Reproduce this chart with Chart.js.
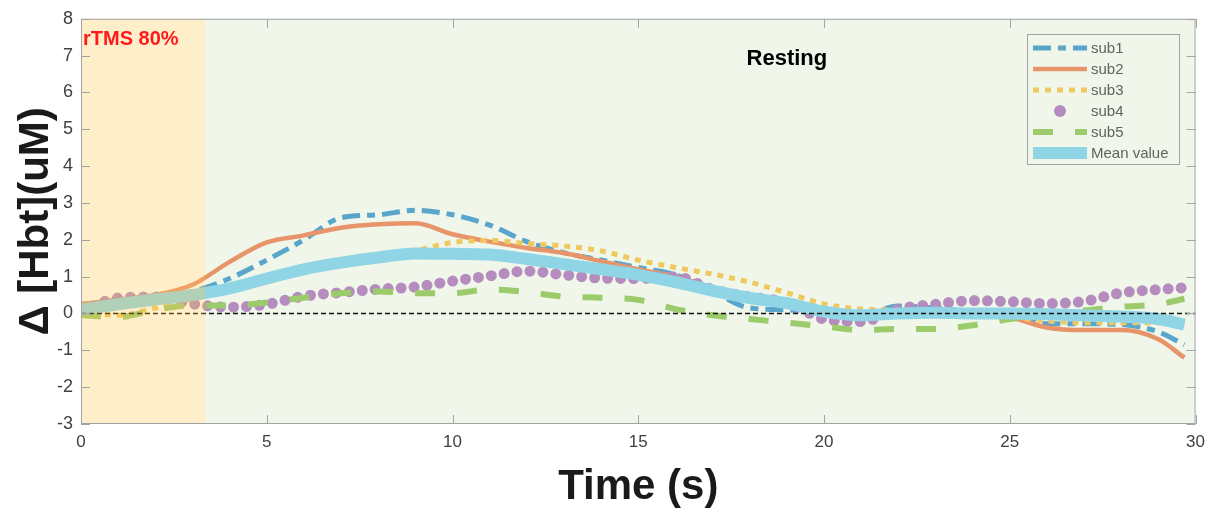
<!DOCTYPE html>
<html>
<head>
<meta charset="utf-8">
<script src="https://cdn.jsdelivr.net/npm/chart.js@4.4.1/dist/chart.umd.min.js"></script>
<style>
  html, body { margin: 0; padding: 0; background: #ffffff; }
  #wrap { width: 1213px; height: 508px; }
</style>
</head>
<body>
<div id="wrap"><canvas id="graficoHbt" width="1213" height="508"></canvas></div>
<script>
// ---- datos ----
const timeSec = [0, 1, 2, 3, 4, 5, 6, 7, 8, 9, 10, 11, 12, 13, 14, 15, 16, 17, 18, 19, 20, 21, 22, 23, 24, 25, 26, 27, 28, 29, 29.7];

const sub1 = [0.25, 0.35, 0.45, 0.6, 0.95, 1.45, 2.0, 2.6, 2.68, 2.8, 2.68, 2.4, 1.95, 1.65, 1.45, 1.25, 1.05, 0.6, 0.15, 0.1, 0.0, -0.05, 0.2, 0.15, 0.05, -0.05, -0.28, -0.28, -0.3, -0.5, -0.85];
const sub2 = [0.25, 0.38, 0.5, 0.78, 1.4, 1.93, 2.12, 2.33, 2.42, 2.45, 2.15, 1.95, 1.78, 1.64, 1.42, 1.2, 1.0, 0.7, 0.4, 0.25, 0.1, 0.0, 0.05, 0.05, 0.0, -0.1, -0.38, -0.45, -0.45, -0.7, -1.2];
const sub3 = [0.05, -0.05, 0.15, 0.4, 0.6, 0.85, 1.15, 1.3, 1.45, 1.7, 1.93, 1.98, 1.9, 1.83, 1.7, 1.45, 1.25, 1.07, 0.85, 0.56, 0.26, 0.12, 0.1, 0.05, 0.0, -0.1, -0.2, -0.25, -0.25, -0.25, -0.3];
const sub4 = [0.05, 0.42, 0.45, 0.26, 0.17, 0.25, 0.47, 0.57, 0.66, 0.72, 0.88, 1.02, 1.15, 1.05, 0.96, 0.95, 1.0, 0.65, 0.45, 0.3, -0.15, -0.22, 0.12, 0.25, 0.35, 0.32, 0.27, 0.33, 0.56, 0.65, 0.7];
const sub5 = [-0.05, -0.1, 0.1, 0.22, 0.22, 0.3, 0.43, 0.55, 0.6, 0.55, 0.55, 0.65, 0.58, 0.46, 0.43, 0.37, 0.12, -0.05, -0.15, -0.25, -0.35, -0.45, -0.42, -0.42, -0.32, -0.15, -0.03, 0.08, 0.18, 0.25, 0.4];
const meanValue = [0.1, 0.25, 0.38, 0.5, 0.68, 0.95, 1.2, 1.38, 1.52, 1.63, 1.62, 1.6, 1.48, 1.34, 1.2, 1.05, 0.85, 0.62, 0.42, 0.28, 0.05, -0.05, 0.0, 0.02, 0.0, 0.0, -0.02, -0.05, -0.08, -0.15, -0.3];

const seriesNames = ['sub1', 'sub2', 'sub3', 'sub4', 'sub5', 'Mean value'];
const stimEnd = 3.35;          // fin de la estimulacion (s)
const stimLabel = 'rTMS 80%';
const restLabel = 'Resting';

const toPoints = vals => vals.map((v, i) => ({ x: timeSec[i], y: v }));

// ---- colores y estilos ----
const bgStim = 'rgba(255, 200, 80, 0.30)';
const bgRest = '#f0f7ea';
const axisGray = '#a3a3a3';

const dataHbt = {
  datasets: [
    { label: seriesNames[0], data: toPoints(sub1), borderColor: '#5aa5cc', borderWidth: 5, borderDash: [18, 7, 8, 7], order: 6 },
    { label: seriesNames[1], data: toPoints(sub2), borderColor: '#e8946a', borderWidth: 4.5, order: 5 },
    { label: seriesNames[2], data: toPoints(sub3), borderColor: '#f0c95e', borderWidth: 5, borderDash: [6, 6], order: 4 },
    { label: seriesNames[3], data: toPoints(sub4), borderColor: '#b48cbe', borderWidth: 11, borderDash: [0, 13], borderCapStyle: 'round', order: 3 },
    { label: seriesNames[4], data: toPoints(sub5), borderColor: '#9ccb6c', borderWidth: 6, borderDash: [20, 22], order: 2 },
    { label: seriesNames[5], data: toPoints(meanValue), borderColor: '#8fd5e6', borderWidth: 12, order: 1 }
  ]
};

// fondos, linea cero, textos, leyenda y marco estilo MATLAB
const figurePlugin = {
  id: 'figurePlugin',
  beforeDatasetsDraw(chart) {
    const { ctx, chartArea: a, scales: { x } } = chart;
    const xs = x.getPixelForValue(stimEnd);
    ctx.save();
    ctx.fillStyle = '#ffffff';
    ctx.fillRect(a.left, a.top, xs - a.left, a.bottom - a.top);
    ctx.fillStyle = bgRest;
    ctx.fillRect(xs, a.top, a.right - xs, a.bottom - a.top);
    ctx.restore();
  },
  afterDatasetsDraw(chart) {
    const { ctx, chartArea: a, scales: { x, y } } = chart;
    const xs = x.getPixelForValue(stimEnd);
    ctx.save();
    // linea de cero
    const y0 = y.getPixelForValue(0);
    ctx.strokeStyle = '#111111';
    ctx.lineWidth = 1.5;
    ctx.setLineDash([5, 3]);
    ctx.beginPath();
    ctx.moveTo(a.left, y0);
    ctx.lineTo(a.right, y0);
    ctx.stroke();
    ctx.setLineDash([]);
    // zona de estimulacion (encima de las curvas, transparente)
    ctx.fillStyle = bgStim;
    ctx.fillRect(a.left, a.top, xs - a.left, a.bottom - a.top);

    // textos
    ctx.textBaseline = 'middle';
    ctx.fillStyle = '#ff1a1a';
    ctx.font = 'bold 20px "Liberation Sans", Arial, sans-serif';
    ctx.textAlign = 'left';
    ctx.fillText(stimLabel, a.left + 2, y.getPixelForValue(7.45));
    ctx.fillStyle = '#000000';
    ctx.font = 'bold 22px "Liberation Sans", Arial, sans-serif';
    ctx.textAlign = 'center';
    ctx.fillText(restLabel, x.getPixelForValue(19), y.getPixelForValue(6.9));

    // leyenda
    const lx = 1027, ly = 34, lw = 152, lh = 130;
    ctx.fillStyle = bgRest;
    ctx.fillRect(lx, ly, lw, lh);
    ctx.strokeStyle = axisGray;
    ctx.lineWidth = 1;
    ctx.strokeRect(lx + 0.5, ly + 0.5, lw, lh);
    chart.data.datasets.forEach((ds, i) => {
      const cy = ly + 14 + i * 21;
      ctx.strokeStyle = ds.borderColor;
      ctx.fillStyle = ds.borderColor;
      if (ds.borderCapStyle === 'round') {
        ctx.beginPath();
        ctx.arc(1060, cy, 6, 0, Math.PI * 2);
        ctx.fill();
      } else {
        ctx.lineWidth = ds.borderWidth;
        ctx.lineCap = 'butt';
        ctx.setLineDash(ds.borderDash || []);
        ctx.beginPath();
        ctx.moveTo(1033, cy);
        ctx.lineTo(1087, cy);
        ctx.stroke();
        ctx.setLineDash([]);
      }
      ctx.fillStyle = '#626262';
      ctx.font = '15px "Liberation Sans", Arial, sans-serif';
      ctx.textAlign = 'left';
      ctx.fillText(ds.label, 1091, cy + 1);
    });

    // marco y ticks hacia dentro
    ctx.strokeStyle = axisGray;
    ctx.lineWidth = 1;
    ctx.strokeRect(a.left + 0.5, a.top + 0.5, a.right - a.left - 1, a.bottom - a.top - 1);
    const tl = 9;
    ctx.beginPath();
    x.ticks.forEach(t => {
      const px = Math.round(x.getPixelForValue(t.value)) + 0.5;
      ctx.moveTo(px, a.bottom); ctx.lineTo(px, a.bottom - tl);
      ctx.moveTo(px, a.top); ctx.lineTo(px, a.top + tl);
    });
    y.ticks.forEach(t => {
      const py = Math.round(y.getPixelForValue(t.value)) + 0.5;
      ctx.moveTo(a.left, py); ctx.lineTo(a.left + tl, py);
      ctx.moveTo(a.right, py); ctx.lineTo(a.right - tl, py);
    });
    ctx.stroke();
    ctx.restore();
  }
};

const configHbt = {
  type: 'line',
  data: dataHbt,
  options: {
    responsive: false,
    animation: false,
    devicePixelRatio: 1,
    layout: { padding: { left: 0, top: 17, right: 16, bottom: 0 } },
    elements: {
      point: { radius: 0 },
      line: { cubicInterpolationMode: 'monotone', fill: false }
    },
    plugins: {
      legend: { display: false },
      tooltip: { enabled: false }
    },
    scales: {
      x: {
        type: 'linear',
        min: 0,
        max: 30,
        afterFit: s => { s.height = 84; },
        grid: { display: false, drawTicks: false },
        border: { display: false },
        ticks: {
          stepSize: 5,
          padding: 8,
          color: '#404040',
          font: { family: '"Liberation Sans Narrow", "Liberation Sans", Arial, sans-serif', size: 17 }
        },
        title: {
          display: true,
          text: 'Time (s)',
          color: '#1a1a1a',
          padding: { top: 0, bottom: 0 },
          font: { family: '"Liberation Sans", Arial, sans-serif', size: 42, weight: 'bold', lineHeight: 1 }
        }
      },
      y: {
        min: -3,
        max: 8,
        afterFit: s => { s.width = 81; },
        grid: { display: false, drawTicks: false },
        border: { display: false },
        ticks: {
          stepSize: 1,
          padding: 8,
          color: '#404040',
          font: { family: '"Liberation Sans", Arial, sans-serif', size: 18 }
        },
        title: {
          display: true,
          text: 'Δ [Hbt](uM)',
          color: '#1a1a1a',
          padding: { top: 15, bottom: 0 },
          font: { family: '"Liberation Sans", Arial, sans-serif', size: 42, weight: 'bold', lineHeight: 1 }
        }
      }
    }
  },
  plugins: [figurePlugin]
};

const ctxHbt = document.getElementById('graficoHbt').getContext('2d');
new Chart(ctxHbt, configHbt);
</script>
</body>
</html>
